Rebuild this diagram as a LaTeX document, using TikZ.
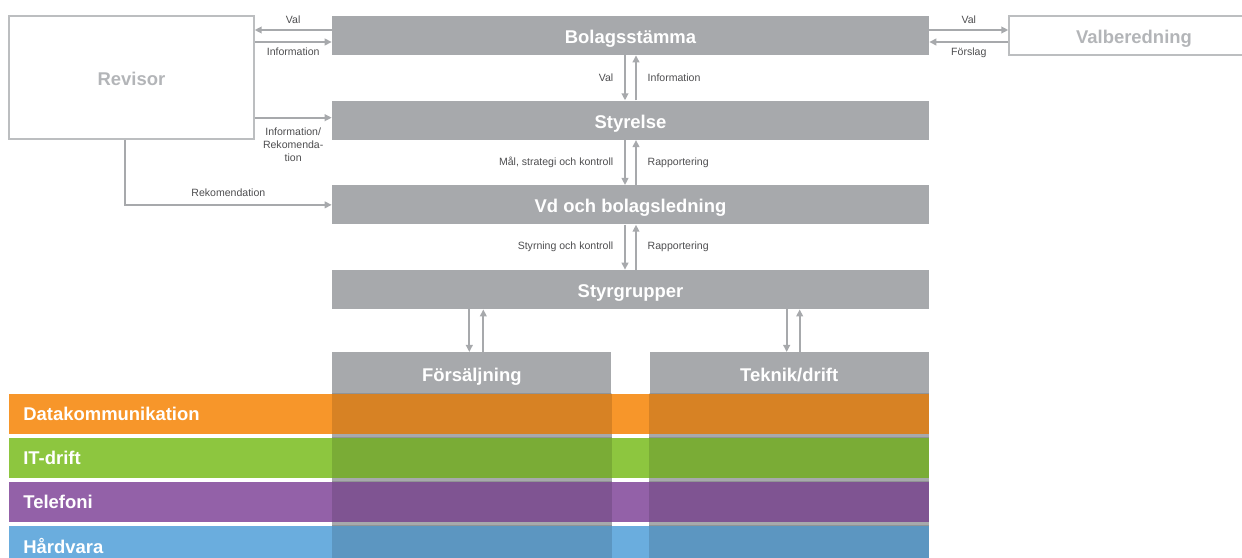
\documentclass[tikz,border=0pt]{standalone}
\usepackage{fontspec}
\setmainfont{Liberation Sans}
\usetikzlibrary{positioning,arrows.meta}

\definecolor{barGray}{HTML}{A7A9AC}
\definecolor{boxGray}{HTML}{BCBEC0}
\definecolor{txtGray}{HTML}{B3B5B8}
\definecolor{lblGray}{HTML}{4D4D4F}
\definecolor{dataOrange}{HTML}{F7962A}
\definecolor{itGreen}{HTML}{8DC63F}
\definecolor{telPurple}{HTML}{9361A8}
\definecolor{hwBlue}{HTML}{6AADDE}

\begin{document}
\begin{tikzpicture}[
  x=0.02cm, y=-0.02cm,
  bar/.style={rectangle, fill=barGray, text=white, minimum width=11.94cm, minimum height=0.78cm, inner sep=0pt, text height=9pt, text depth=0pt, font=\bfseries\fontsize{10.5}{12}\selectfont},
  side/.style={rectangle, draw=boxGray, line width=0.8pt, text=txtGray, inner sep=0pt, text height=9pt, text depth=0pt, font=\bfseries\fontsize{10.5}{12}\selectfont},
  col/.style={rectangle, fill=barGray, text=white, minimum width=5.58cm, minimum height=0.84cm, inner sep=0pt, text height=9pt, text depth=0pt, font=\bfseries\fontsize{10.5}{12}\selectfont},
  unit/.style={rectangle, anchor=west, text=white, minimum height=0.8cm, text width=17.84cm, inner xsep=0.28cm, inner ysep=0pt, align=left, font=\bfseries\fontsize{10.5}{12}\selectfont},
  arr/.style={draw=barGray, line width=1.1pt, -{Triangle[length=4pt,width=3.8pt]}},
  lbl/.style={font=\fontsize{6}{7.4}\selectfont, text=lblGray, inner sep=1pt},
  node distance=0.9cm
]
\clip (0,0) rectangle (1242,558);
\coordinate (bot) at (0,570);

% styrning
\node[bar] (bs) at (630.5,35.5) {Bolagsstämma};
\node[bar, below=of bs] (sty) {Styrelse};
\node[bar, below=of sty] (vd) {Vd och bolagsledning};
\node[bar, below=of vd] (sg) {Styrgrupper};
\node[side, minimum width=4.9cm, minimum height=2.46cm] (rev) at (131.5,77.5) {Revisor};
\node[side, minimum width=5cm, minimum height=0.78cm] (vb) at (1134,35.5) {Valberedning};

% kolumner
\node[col, anchor=north west] (fs) at (332,352) {Försäljning};
\node[col, anchor=north east] (tk) at (929,352) {Teknik/drift};
\fill[barGray] (fs.south west) rectangle (fs.south east |- bot);
\fill[barGray] (tk.south west) rectangle (tk.south east |- bot);

% affärsområden
\node[unit, fill=dataOrange] (dk) at (9,413.5) {Datakommunikation};
\node[unit, fill=itGreen] (it) at (9,457.5) {IT-drift};
\node[unit, fill=telPurple] (tel) at (9,501.5) {Telefoni};
\node[unit, fill=hwBlue] (hw) at (9,545.5) {Hårdvara};
\foreach \u in {dk,it,tel,hw} {
  \fill[black, opacity=0.13] (fs.west |- \u.north) rectangle (fs.east |- \u.south);
  \fill[black, opacity=0.13] (tk.west |- \u.north) rectangle (tk.east |- \u.south);
}

% pilar mellan nivaerna
\draw[arr] ([xshift=-0.11cm]bs.south) -- node[lbl, left=0.18cm] {Val} ([xshift=-0.11cm]sty.north);
\draw[arr] ([xshift=0.11cm]sty.north) -- node[lbl, right=0.18cm] {Information} ([xshift=0.11cm]bs.south);
\draw[arr] ([xshift=-0.11cm]sty.south) -- node[lbl, left=0.18cm] {Mål, strategi och kontroll} ([xshift=-0.11cm]vd.north);
\draw[arr] ([xshift=0.11cm]vd.north) -- node[lbl, right=0.18cm] {Rapportering} ([xshift=0.11cm]sty.south);
\draw[arr] ([xshift=-0.11cm]vd.south) -- node[lbl, left=0.18cm] {Styrning och kontroll} ([xshift=-0.11cm]sg.north);
\draw[arr] ([xshift=0.11cm]sg.north) -- node[lbl, right=0.18cm] {Rapportering} ([xshift=0.11cm]vd.south);

% revisor
\coordinate (rv1) at ([yshift=0.11cm]bs.west);
\coordinate (rv2) at ([yshift=-0.13cm]bs.west);
\coordinate (rv3) at ([yshift=0.05cm]sty.west);
\draw[arr] (rv1) -- node[lbl, above=2pt] {Val} (rv1 -| rev.east);
\draw[arr] (rv2 -| rev.east) -- node[lbl, below=2pt] {Information} (rv2);
\draw[arr] (rv3 -| rev.east) -- node[lbl, below=4pt, align=center] {Information/\\Rekomenda-\\tion} (rv3);
\draw[arr] ([xshift=-0.13cm]rev.south) |- node[lbl, pos=0.75, above=3pt] {Rekomendation} (vd.west);

% valberedning
\coordinate (vb1) at ([yshift=0.11cm]bs.east);
\coordinate (vb2) at ([yshift=-0.13cm]bs.east);
\draw[arr] (vb1) -- node[lbl, above=2pt] {Val} (vb1 -| vb.west);
\draw[arr] (vb2 -| vb.west) -- node[lbl, below=2pt] {Förslag} (vb2);

% styrgrupper till kolumner
\coordinate (f1) at ([xshift=-0.05cm]fs.north);
\coordinate (f2) at ([xshift=0.23cm]fs.north);
\coordinate (t1) at ([xshift=-0.05cm]tk.north);
\coordinate (t2) at ([xshift=0.21cm]tk.north);
\draw[arr] (f1 |- sg.south) -- (f1);
\draw[arr] (f2) -- (f2 |- sg.south);
\draw[arr] (t1 |- sg.south) -- (t1);
\draw[arr] (t2) -- (t2 |- sg.south);
\end{tikzpicture}
\end{document}
